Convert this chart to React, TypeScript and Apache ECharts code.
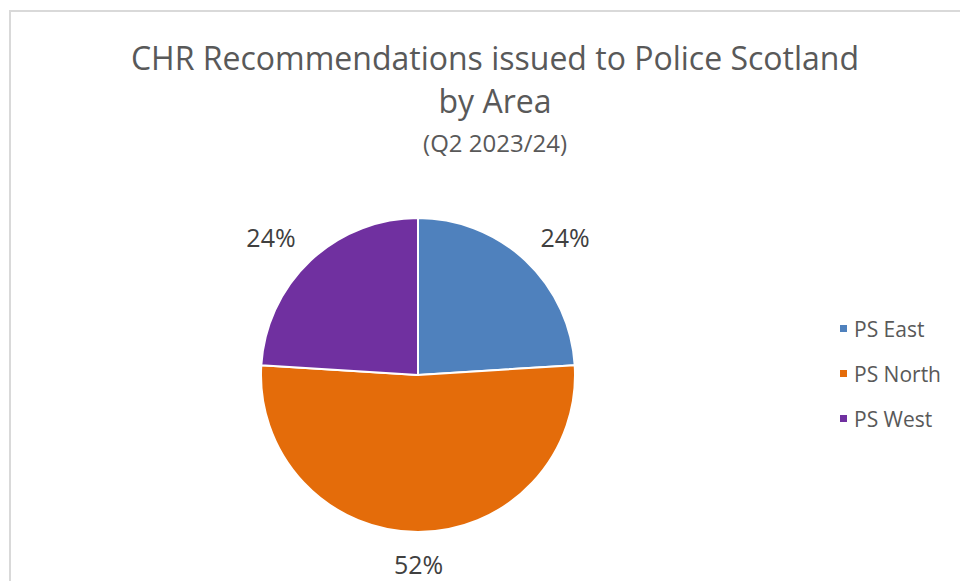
import React, { useEffect, useRef } from "react";
import * as echarts from "echarts";

const categories = ["PS East", "PS North", "PS West"];
const values = [6, 13, 6];
const colors = ["#4f81bd", "#e46c0a", "#7030a0"];
const labelShift = [-12, -29, -12];

export default function App() {
  const ref = useRef<HTMLDivElement>(null);
  useEffect(() => {
    document.body.style.margin = "0";
    const chart = echarts.init(ref.current!, null, { renderer: "svg" });
    chart.setOption({
      animation: false,
      backgroundColor: "#ffffff",
      graphic: [
        {
          type: "rect",
          shape: { x: 10, y: 11, width: 980, height: 620 },
          style: { fill: "none", stroke: "#d9d9d9", lineWidth: 2 },
          silent: true,
        },
      ],
      title: {
        text: "CHR Recommendations issued to Police Scotland\nby Area",
        subtext: "(Q2 2023/24)",
        left: 490,
        top: 31,
        textAlign: "center",
        itemGap: 8,
        textStyle: {
          fontFamily: "Open Sans",
          fontSize: 32,
          fontWeight: "normal",
          color: "#595959",
          lineHeight: 43,
        },
        subtextStyle: {
          fontFamily: "Open Sans",
          fontSize: 24,
          color: "#595959",
        },
      },
      legend: {
        orient: "vertical",
        left: 833,
        top: 313,
        itemWidth: 9,
        itemHeight: 9,
        itemGap: 24,
        icon: "rect",
        data: categories,
        textStyle: {
          fontFamily: "Open Sans",
          fontSize: 21,
          color: "#595959",
          padding: [0, 0, 0, 1],
        },
      },
      series: [
        {
          type: "pie",
          center: [418, 375],
          radius: 157,
          startAngle: 90,
          clockwise: true,
          data: categories.map((c, i) => ({
            name: c,
            value: values[i],
            itemStyle: { color: colors[i] },
            labelLine: { show: false, length: 32, length2: labelShift[i] },
          })),
          itemStyle: { borderColor: "#ffffff", borderWidth: 2 },
          label: {
            show: true,
            position: "outside",
            formatter: (p: any) => Math.round(p.percent) + "%",
            fontFamily: "Open Sans",
            fontSize: 25,
            color: "#404040",
          },
          labelLine: { show: false, length: 32, length2: 0 },
          emphasis: { disabled: true },
        },
      ],
    });
    return () => chart.dispose();
  }, []);
  return <div ref={ref} style={{ width: 960, height: 581 }} />;
}
